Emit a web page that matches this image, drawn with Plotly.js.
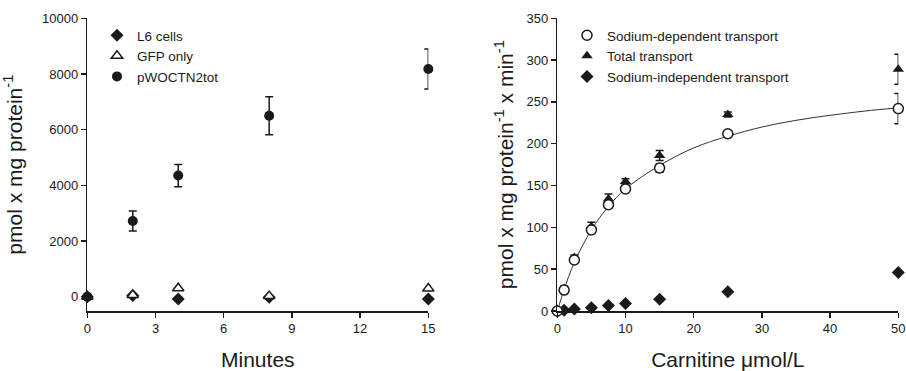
<!DOCTYPE html>
<html>
<head>
<meta charset="utf-8">
<script src="https://cdn.plot.ly/plotly-3.0.1.min.js"></script>
<style>html,body{margin:0;padding:0;background:#fff;}#chart{width:906px;height:371px;}</style>
</head>
<body>
<div id="chart"></div>
<script>
// ---- Left panel: time course ----
var minutes = [0, 2, 4, 8, 15];
var l6Cells = [0, 40, -80, -20, -80];
var gfpOnly = [0, 60, 300, 20, 290];
var pWOCTN2tot = [0, 2720, 4350, 6500, 8180];
var pWOCTN2totErr = [0, 360, 400, 680, 720];
var leftXTicks = [0, 3, 6, 9, 12, 15];
var leftYTicks = [0, 2000, 4000, 6000, 8000, 10000];
var leftYTickText = ["0", "2000", "4000", "6000", "8000", "10000"];

// ---- Right panel: concentration dependence ----
var carnitine = [0, 1, 2.5, 5, 7.5, 10, 15, 25, 50];
var sodiumDep = [0, 25, 61, 97, 127, 146, 171, 212, 242];
var sodiumDepErr = [0, 3, 3, 3, 4, 3, 5, 3, 18];
var totalTransport = [0, 27, 64, 101, 134, 155, 186, 235, 289];
var totalTransportErr = [0, 3, 3, 5, 6, 3, 6, 3, 18];
var sodiumIndep = [0, 1, 2.5, 4, 6.5, 9, 14, 23, 46];
var fitX = [0, 0.5, 1, 2.5, 5, 7.5, 10, 15, 20, 25, 30, 35, 40, 45, 50];
var fitY = [0, 13, 26, 58, 97, 125, 146, 174, 195, 209, 220, 228, 234, 239, 243];
var rightXTicks = [0, 10, 20, 30, 40, 50];
var rightYTicks = [0, 50, 100, 150, 200, 250, 300, 350];

var FONT = "Liberation Sans, Arial, Helvetica, sans-serif";
var INK = "#1a1a1a";

var traces = [
  {x: minutes, y: l6Cells, name: "L6 cells", mode: "markers", type: "scatter",
   xaxis: "x", yaxis: "y", legend: "legend", cliponaxis: false,
   marker: {symbol: "diamond", size: 10, color: INK}},
  {x: minutes, y: gfpOnly, name: "GFP only", mode: "markers", type: "scatter",
   xaxis: "x", yaxis: "y", legend: "legend", cliponaxis: false,
   marker: {symbol: "triangle-up", size: 10, color: "#fff", line: {color: INK, width: 1.5}}},
  {x: minutes, y: pWOCTN2tot, name: "pWOCTN2tot", mode: "markers", type: "scatter",
   xaxis: "x", yaxis: "y", legend: "legend", cliponaxis: false,
   error_y: {type: "data", array: pWOCTN2totErr, visible: true, color: INK, thickness: 1.5, width: 4},
   marker: {symbol: "circle", size: 10, color: INK}},

  {x: fitX, y: fitY, mode: "lines", type: "scatter", showlegend: false, hoverinfo: "skip",
   xaxis: "x2", yaxis: "y2", line: {color: "#333", width: 1, shape: "spline"}},
  {x: carnitine, y: sodiumIndep, name: "Sodium-independent transport", mode: "markers", type: "scatter",
   xaxis: "x2", yaxis: "y2", legend: "legend2", legendrank: 3, cliponaxis: false,
   marker: {symbol: "diamond", size: 10, color: INK}},
  {x: carnitine, y: totalTransport, name: "Total transport", mode: "markers", type: "scatter",
   xaxis: "x2", yaxis: "y2", legend: "legend2", legendrank: 2, cliponaxis: false,
   error_y: {type: "data", array: totalTransportErr, visible: true, color: INK, thickness: 1.5, width: 4},
   marker: {symbol: "triangle-up", size: 10, color: INK}},
  {x: carnitine, y: sodiumDep, name: "Sodium-dependent transport", mode: "markers", type: "scatter",
   xaxis: "x2", yaxis: "y2", legend: "legend2", legendrank: 1, cliponaxis: false,
   error_y: {type: "data", array: sodiumDepErr, visible: true, color: INK, thickness: 1.5, width: 4},
   marker: {symbol: "circle", size: 10, color: "#fff", line: {color: INK, width: 1.5}}}
];

function axisBase() {
  return {
    showline: true, linecolor: INK, linewidth: 1.5,
    ticks: "outside", ticklen: 5, tickwidth: 1.5, tickcolor: INK,
    showgrid: false, zeroline: false,
    tickfont: {family: FONT, size: 13, color: INK},
    fixedrange: true
  };
}

var yDomain = [(371 - 311) / 371, (371 - 18.3) / 371];
var TITLE_FONT = {family: FONT, size: 21, color: INK};

var xaxis = Object.assign(axisBase(), {
  domain: [87.3 / 906, 428.3 / 906], range: [0, 15], tickvals: leftXTicks, anchor: "y",
  title: {text: "Minutes", font: TITLE_FONT, standoff: 17}
});
var yaxis = Object.assign(axisBase(), {
  domain: yDomain, range: [-515, 10000], tickvals: leftYTicks, ticktext: leftYTickText, anchor: "x",
  title: {text: "pmol x mg protein<sup>-1</sup>", font: TITLE_FONT, standoff: 18}
});
var xaxis2 = Object.assign(axisBase(), {
  domain: [557.3 / 906, 898.3 / 906], range: [0, 50], tickvals: rightXTicks, anchor: "y2",
  title: {text: "Carnitine μmol/L", font: TITLE_FONT, standoff: 17}
});
var yaxis2 = Object.assign(axisBase(), {
  domain: yDomain, range: [0, 350], tickvals: rightYTicks, anchor: "x2",
  title: {text: "pmol x mg protein<sup>-1</sup> x min<sup>-1</sup>", font: TITLE_FONT, standoff: 7}
});

var layout = {
  width: 906, height: 371,
  margin: {l: 0, r: 0, t: 0, b: 0},
  paper_bgcolor: "#fff", plot_bgcolor: "#fff",
  font: {family: FONT, color: INK},
  showlegend: true,
  xaxis: xaxis, yaxis: yaxis, xaxis2: xaxis2, yaxis2: yaxis2,
  legend: {x: 97 / 906, y: 1 - 20 / 371, xanchor: "left", yanchor: "top",
           bgcolor: "rgba(0,0,0,0)", font: {family: FONT, size: 13.5, color: INK}},
  legend2: {x: 567 / 906, y: 1 - 20 / 371, xanchor: "left", yanchor: "top",
            bgcolor: "rgba(0,0,0,0)", font: {family: FONT, size: 13.5, color: INK}, traceorder: "normal"}
};

Plotly.newPlot("chart", traces, layout, {displayModeBar: false, staticPlot: true});
</script>
</body>
</html>
